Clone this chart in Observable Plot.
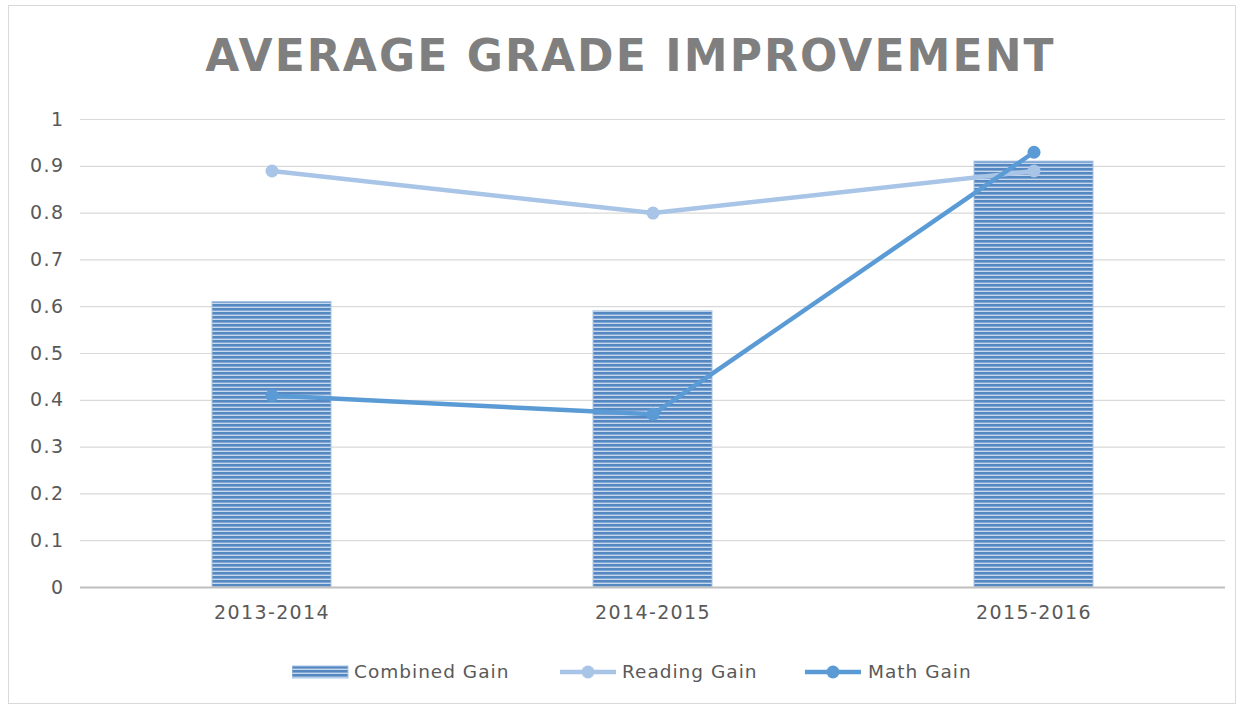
<!DOCTYPE html>
<html>
<head>
<meta charset="utf-8">
<script src="https://cdn.jsdelivr.net/npm/d3@7"></script>
<script src="https://cdn.jsdelivr.net/npm/@observablehq/plot@0.6"></script>
<style>
  html, body { margin: 0; padding: 0; background: #fff; }
  #wrap { position: relative; width: 1243px; height: 711px; overflow: hidden; font-family: "DejaVu Sans", sans-serif; }
  #frame { position: absolute; left: 8px; top: 5px; width: 1228px; height: 699px; border: 1px solid #d9d9d9; box-sizing: border-box; }
  #title { position: absolute; left: 9px; width: 1243px; top: 29px; text-align: center; font-family: "DejaVu Sans", sans-serif; font-weight: bold; font-size: 44px; letter-spacing: 2.1px; color: #7f7f7f; line-height: 54px; }
  #chart { position: absolute; left: 0; top: 100px; }
  #legend { position: absolute; left: 0; top: 658px; width: 1243px; height: 28px; }
  .lg { position: absolute; top: 0; font-size: 18.5px; letter-spacing: 1px; color: #595959; line-height: 28px; white-space: nowrap; }
  #chart svg text { letter-spacing: 1.4px; }
</style>
</head>
<body>
<div id="wrap">
  <div id="frame"></div>
  <div id="title">AVERAGE GRADE IMPROVEMENT</div>
  <div id="chart"></div>
  <div id="legend"></div>
</div>
<script>
const categories = ["2013-2014", "2014-2015", "2015-2016"];
const combinedGain = [0.61, 0.59, 0.91];
const readingGain = [0.89, 0.80, 0.89];
const mathGain = [0.41, 0.37, 0.93];
const yTicks = [0, 0.1, 0.2, 0.3, 0.4, 0.5, 0.6, 0.7, 0.8, 0.9, 1];
const yTickLabels = ["0", "0.1", "0.2", "0.3", "0.4", "0.5", "0.6", "0.7", "0.8", "0.9", "1"];
const seriesNames = ["Combined Gain", "Reading Gain", "Math Gain"];

const combinedData = categories.map((c, i) => ({cat: c, v: combinedGain[i]}));
const readingData = categories.map((c, i) => ({cat: c, v: readingGain[i]}));
const mathData = categories.map((c, i) => ({cat: c, v: mathGain[i]}));

const readingColor = "#a8c4e6";
const mathColor = "#5b9bd5";

const plot = Plot.plot({
  width: 1243,
  height: 540,
  marginTop: 19,
  marginBottom: 53,
  marginLeft: 80,
  marginRight: 18,
  style: {fontFamily: "DejaVu Sans, sans-serif", fontSize: "19px", color: "#595959", background: "transparent"},
  x: {type: "band", domain: categories, padding: 0, label: null},
  y: {domain: [0, 1], label: null},
  marks: [
    Plot.ruleY(yTicks.slice(1), {stroke: "#d9d9d9", strokeWidth: 1.2}),
    Plot.barY(combinedData, {x: "cat", y: "v", fill: "url(#stripes)", stroke: "#a9c3e3", strokeWidth: 1, insetLeft: 131, insetRight: 131}),
    Plot.ruleY([0], {stroke: "#bfbfbf", strokeWidth: 2}),
    Plot.line(readingData, {x: "cat", y: "v", stroke: readingColor, strokeWidth: 4.5}),
    Plot.dot(readingData, {x: "cat", y: "v", fill: readingColor, r: 6.5}),
    Plot.line(mathData, {x: "cat", y: "v", stroke: mathColor, strokeWidth: 4.5}),
    Plot.dot(mathData, {x: "cat", y: "v", fill: mathColor, r: 6.5}),
    Plot.axisY(yTicks, {tickSize: 0, tickPadding: 16, tickFormat: (d, i) => yTickLabels[i], fill: "#595959", fontSize: 19}),
    Plot.axisX({tickSize: 0, tickPadding: 18, fill: "#595959", fontSize: 19})
  ]
});

// stripes pattern for the combined bars
const ns = "http://www.w3.org/2000/svg";
const defs = document.createElementNS(ns, "defs");
defs.innerHTML = `<pattern id="stripes" patternUnits="userSpaceOnUse" width="8" height="4">
  <rect x="0" y="0" width="8" height="4" fill="#5587c1"/>
  <rect x="0" y="2.6" width="8" height="1.4" fill="#c6d8ee"/>
</pattern>`;
plot.insertBefore(defs, plot.firstChild);
document.getElementById("chart").appendChild(plot);

// legend
const legend = document.getElementById("legend");
const items = [
  {name: seriesNames[0], kind: "bar", swX: 292, txX: 354},
  {name: seriesNames[1], kind: "line", color: readingColor, swX: 560, txX: 622},
  {name: seriesNames[2], kind: "line", color: mathColor, swX: 805, txX: 868}
];
items.forEach(it => {
  const sw = document.createElementNS(ns, "svg");
  sw.setAttribute("width", 58);
  sw.setAttribute("height", 28);
  sw.style.position = "absolute";
  sw.style.left = it.swX + "px";
  sw.style.top = "0px";
  if (it.kind === "bar") {
    sw.innerHTML = `<rect x="0" y="8" width="56" height="12" fill="url(#stripes)" stroke="#a9c3e3" stroke-width="1"/>`;
  } else {
    sw.innerHTML = `<line x1="0" x2="56" y1="14" y2="14" stroke="${it.color}" stroke-width="4.5"/><circle cx="28" cy="14" r="6.5" fill="${it.color}"/>`;
  }
  legend.appendChild(sw);
  const t = document.createElement("div");
  t.className = "lg";
  t.style.left = it.txX + "px";
  t.textContent = it.name;
  legend.appendChild(t);
});
</script>
</body>
</html>
